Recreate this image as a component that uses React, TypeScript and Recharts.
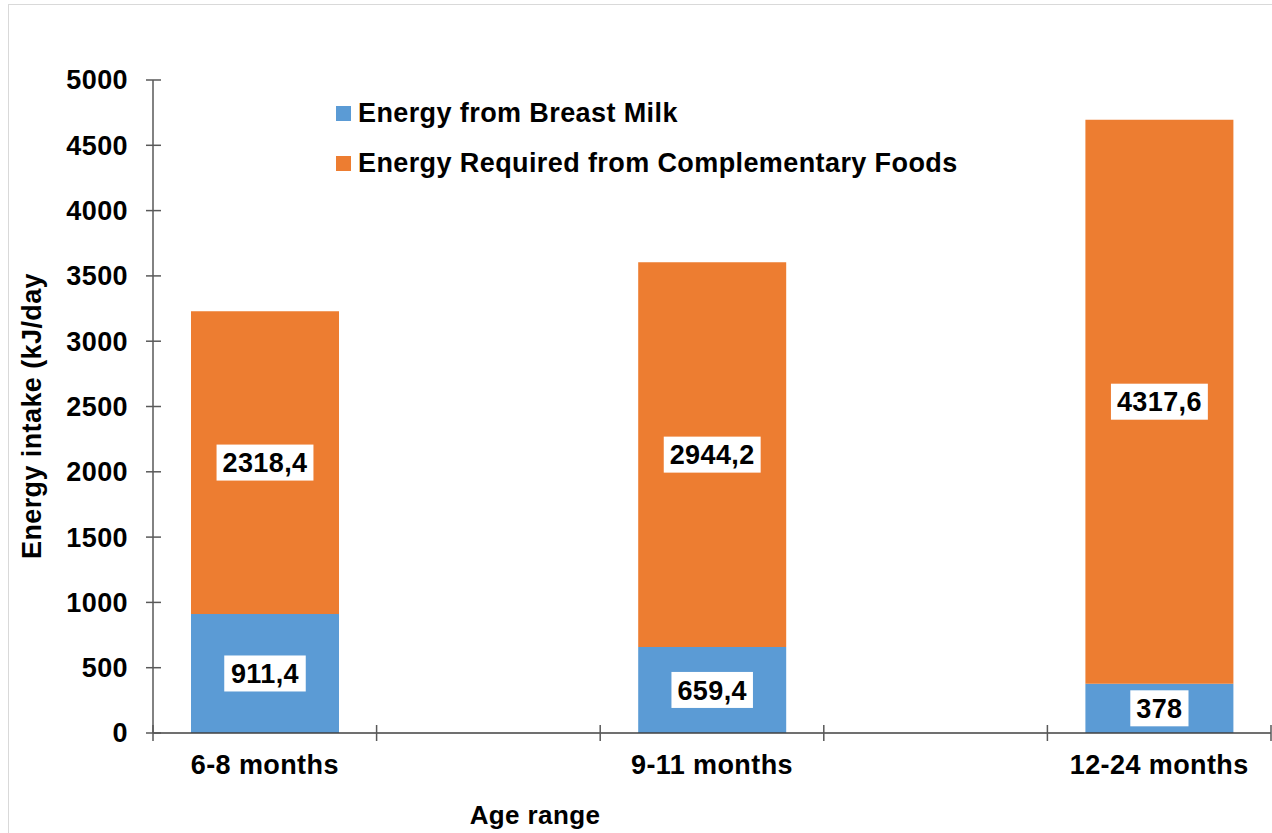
import React from 'react';
import { BarChart, Bar, XAxis, YAxis, Legend, LabelList } from 'recharts';

const categories = ['6-8 months', '9-11 months', '12-24 months'];
const breastMilk = [911.4, 659.4, 378];
const complementary = [2318.4, 2944.2, 4317.6];
const yTicks = [0, 500, 1000, 1500, 2000, 2500, 3000, 3500, 4000, 4500, 5000];
const seriesOrder = ['milk', 'comp'];

const FONT = '"Liberation Sans", Arial, sans-serif';
const BLUE = '#5b9bd5';
const ORANGE = '#ed7d31';
const AXIS = '#595959';

// the original leaves an empty category slot between the age ranges
const rows = categories.flatMap((c, i) => {
  const row = { name: c, milk: breastMilk[i], comp: complementary[i] };
  return i < categories.length - 1 ? [row, { name: `gap${i}` }] : [row];
});

const PLOT_W = 1118;
const BAND = PLOT_W / rows.length;

const textStyle = { fontFamily: FONT, fontWeight: 700, fontSize: 27, letterSpacing: 0.4, fill: '#000' };

const XTick = (props: any) => {
  const { x, y, payload, index } = props;
  const axisY = y - 22;
  const half = BAND / 2;
  const label = String(payload.value);
  return (
    <g>
      <line x1={x - half} x2={x - half} y1={axisY - 8} y2={axisY + 8} stroke={AXIS} strokeWidth={1.5} />
      {index === rows.length - 1 && (
        <line x1={x + half} x2={x + half} y1={axisY - 8} y2={axisY + 8} stroke={AXIS} strokeWidth={1.5} />
      )}
      {!label.startsWith('gap') && (
        <text x={x} y={axisY + 41} textAnchor="middle" style={textStyle}>{label}</text>
      )}
    </g>
  );
};

const YTick = (props: any) => {
  const { x, y, payload } = props;
  const axisX = x + 25;
  return (
    <g>
      <line x1={axisX - 7} x2={axisX + 8} y1={y} y2={y} stroke={AXIS} strokeWidth={1.5} />
      <text x={x} y={y} dy="0.35em" textAnchor="end" style={textStyle}>{payload.value}</text>
    </g>
  );
};

const ValueBox = (props: any) => {
  const { x, y, width, height, value } = props;
  if (value == null) return null;
  const text = String(value).replace('.', ',');
  const commas = (text.match(/,/g) || []).length;
  const digits = text.length - commas;
  const w = digits * 15 + commas * 7.5 + text.length * 0.4 + 12;
  const h = 36;
  const cx = x + width / 2;
  const cy = y + height / 2;
  return (
    <g>
      <rect x={cx - w / 2} y={cy - h / 2} width={w} height={h} fill="#fff" />
      <text x={cx} y={cy} dy="0.36em" textAnchor="middle" style={textStyle}>{text}</text>
    </g>
  );
};

const renderLegend = (props: any) => {
  const items = [...(props.payload || [])].sort(
    (a: any, b: any) => seriesOrder.indexOf(a.dataKey) - seriesOrder.indexOf(b.dataKey)
  );
  return (
    <div style={{ fontFamily: FONT, fontWeight: 700, fontSize: 27, letterSpacing: 0.4, color: '#000' }}>
      {items.map((p: any, i: number) => (
        <div key={i} style={{ display: 'flex', alignItems: 'center', height: 30, marginBottom: 20, whiteSpace: 'nowrap' }}>
          <span style={{ display: 'inline-block', width: 15, height: 15, background: p.color, marginRight: 7 }} />
          <span style={{ lineHeight: '30px' }}>{p.value}</span>
        </div>
      ))}
    </div>
  );
};

const renderYTitle = () => (
  <text x={41} y={416} transform="rotate(-90 41 416)" textAnchor="middle" style={textStyle}>
    Energy intake (kJ/day
  </text>
);

const renderXTitle = () => (
  <text x={535} y={824} textAnchor="middle" style={{ ...textStyle, fontSize: 26 }}>
    Age range
  </text>
);

export default function App() {
  return (
    <div style={{ position: 'absolute', left: 0, top: 0, width: 1272, height: 833, overflow: 'hidden', background: '#fff' }}>
      <div style={{ position: 'absolute', left: 8, top: 4, width: 1400, height: 1000, border: '1.5px solid #d9d9d9' }} />
      <div style={{ position: 'absolute', left: 0, top: 0 }}>
        <BarChart width={1272} height={833} data={rows} margin={{ top: 80, right: 1, bottom: 0, left: 0 }}>
          <XAxis
            dataKey="name"
            height={100}
            interval={0}
            tickLine={false}
            tickSize={8}
            tickMargin={14}
            axisLine={{ stroke: '#404040', strokeWidth: 1.5 }}
            tick={<XTick />}
            label={renderXTitle}
          />
          <YAxis
            width={153}
            domain={[0, 5000]}
            ticks={yTicks}
            interval={0}
            tickLine={false}
            tickSize={7}
            tickMargin={18}
            axisLine={{ stroke: AXIS, strokeWidth: 1.5 }}
            tick={<YTick />}
            label={renderYTitle}
          />
          <Legend
            layout="vertical"
            align="center"
            verticalAlign="middle"
            wrapperStyle={{ top: 98, left: 336, width: 'auto' }}
            content={renderLegend}
          />
          <Bar dataKey="milk" name="Energy from Breast Milk" stackId="a" fill={BLUE} barSize={148} isAnimationActive={false}>
            <LabelList dataKey="milk" content={<ValueBox />} />
          </Bar>
          <Bar dataKey="comp" name="Energy Required from Complementary Foods" stackId="a" fill={ORANGE} barSize={148} isAnimationActive={false}>
            <LabelList dataKey="comp" content={<ValueBox />} />
          </Bar>
        </BarChart>
      </div>
    </div>
  );
}
